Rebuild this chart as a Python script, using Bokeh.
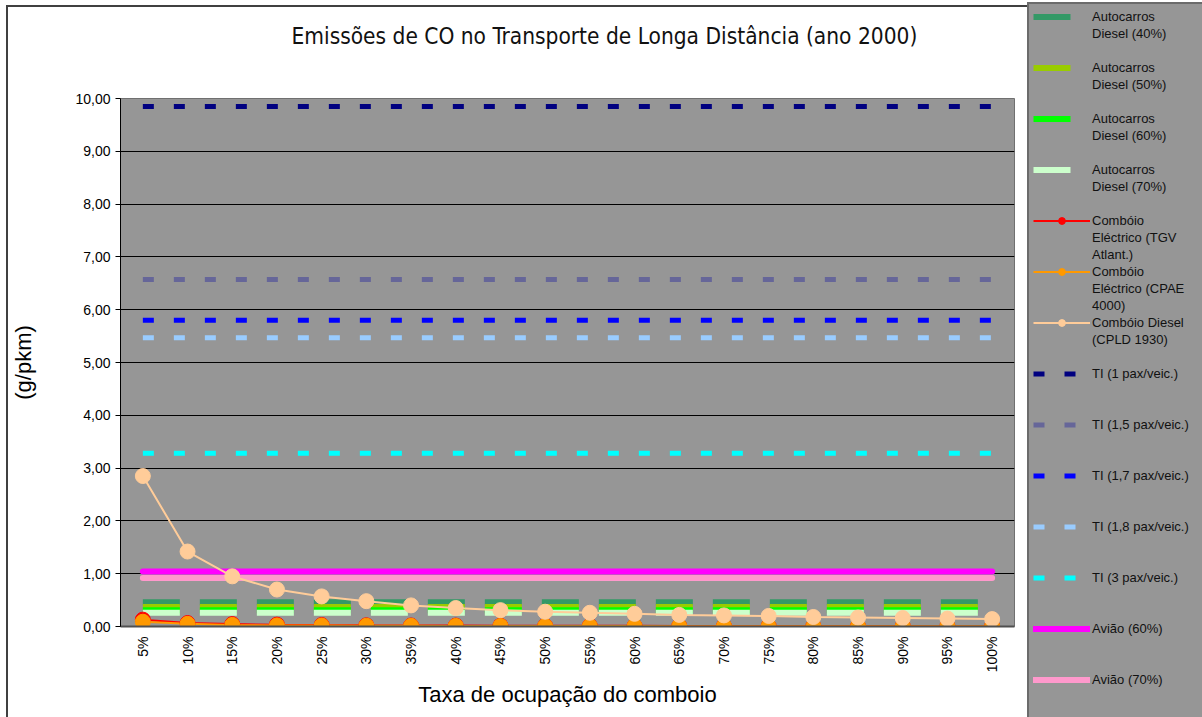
import math
from bokeh.plotting import figure
from bokeh.models import (Legend, LegendItem, FactorRange, Range1d, FixedTicker,
                          CustomJSTickFormatter, Title)
from bokeh.embed import file_html
from bokeh.resources import INLINE

categories = ["5%", "10%", "15%", "20%", "25%", "30%", "35%", "40%", "45%", "50%",
              "55%", "60%", "65%", "70%", "75%", "80%", "85%", "90%", "95%", "100%"]

autocarros_40 = [0.46, 0.46, 0.46, 0.46, 0.46, 0.46, 0.46, 0.46, 0.46, 0.46,
                 0.46, 0.46, 0.46, 0.46, 0.46, 0.46, 0.46, 0.46, 0.46, 0.46]
autocarros_50 = [0.37, 0.37, 0.37, 0.37, 0.37, 0.37, 0.37, 0.37, 0.37, 0.37,
                 0.37, 0.37, 0.37, 0.37, 0.37, 0.37, 0.37, 0.37, 0.37, 0.37]
autocarros_60 = [0.31, 0.31, 0.31, 0.31, 0.31, 0.31, 0.31, 0.31, 0.31, 0.31,
                 0.31, 0.31, 0.31, 0.31, 0.31, 0.31, 0.31, 0.31, 0.31, 0.31]
autocarros_70 = [0.26, 0.26, 0.26, 0.26, 0.26, 0.26, 0.26, 0.26, 0.26, 0.26,
                 0.26, 0.26, 0.26, 0.26, 0.26, 0.26, 0.26, 0.26, 0.26, 0.26]
comboio_tgv = [0.13, 0.065, 0.045, 0.035, 0.028, 0.023, 0.02, 0.018, 0.016, 0.014,
               0.013, 0.012, 0.011, 0.01, 0.009, 0.009, 0.008, 0.008, 0.007, 0.007]
comboio_cpae = [0.09, 0.05, 0.03, 0.02, 0.018, 0.015, 0.013, 0.011, 0.01, 0.009,
                0.008, 0.008, 0.007, 0.007, 0.006, 0.006, 0.005, 0.005, 0.005, 0.005]
comboio_diesel = [2.85, 1.42, 0.95, 0.70, 0.57, 0.48, 0.40, 0.35, 0.31, 0.28,
                  0.26, 0.24, 0.22, 0.21, 0.20, 0.18, 0.17, 0.16, 0.15, 0.14]
ti_1 = [9.85, 9.85, 9.85, 9.85, 9.85, 9.85, 9.85, 9.85, 9.85, 9.85,
        9.85, 9.85, 9.85, 9.85, 9.85, 9.85, 9.85, 9.85, 9.85, 9.85]
ti_15 = [6.57, 6.57, 6.57, 6.57, 6.57, 6.57, 6.57, 6.57, 6.57, 6.57,
         6.57, 6.57, 6.57, 6.57, 6.57, 6.57, 6.57, 6.57, 6.57, 6.57]
ti_17 = [5.80, 5.80, 5.80, 5.80, 5.80, 5.80, 5.80, 5.80, 5.80, 5.80,
         5.80, 5.80, 5.80, 5.80, 5.80, 5.80, 5.80, 5.80, 5.80, 5.80]
ti_18 = [5.47, 5.47, 5.47, 5.47, 5.47, 5.47, 5.47, 5.47, 5.47, 5.47,
         5.47, 5.47, 5.47, 5.47, 5.47, 5.47, 5.47, 5.47, 5.47, 5.47]
ti_3 = [3.28, 3.28, 3.28, 3.28, 3.28, 3.28, 3.28, 3.28, 3.28, 3.28,
        3.28, 3.28, 3.28, 3.28, 3.28, 3.28, 3.28, 3.28, 3.28, 3.28]
aviao_60 = [1.04, 1.04, 1.04, 1.04, 1.04, 1.04, 1.04, 1.04, 1.04, 1.04,
            1.04, 1.04, 1.04, 1.04, 1.04, 1.04, 1.04, 1.04, 1.04, 1.04]
aviao_70 = [0.92, 0.92, 0.92, 0.92, 0.92, 0.92, 0.92, 0.92, 0.92, 0.92,
            0.92, 0.92, 0.92, 0.92, 0.92, 0.92, 0.92, 0.92, 0.92, 0.92]
y_ticks = [0, 1, 2, 3, 4, 5, 6, 7, 8, 9, 10]

series_labels = [
    "Autocarros\nDiesel (40%)", "Autocarros\nDiesel (50%)",
    "Autocarros\nDiesel (60%)", "Autocarros\nDiesel (70%)",
    "Combóio\nEléctrico (TGV\nAtlant.)", "Combóio\nEléctrico (CPAE\n4000)",
    "Combóio Diesel\n(CPLD 1930)",
    "TI (1 pax/veic.)", "TI (1,5 pax/veic.)", "TI (1,7 pax/veic.)",
    "TI (1,8 pax/veic.)", "TI (3 pax/veic.)",
    "Avião (60%)", "Avião (70%)",
]

FONT = "Liberation Sans"
BUS_DASH = "37 20"
TI_DASH = "11 20"

# style of each series: (kind, colour, width, dash)
styles = [
    ("line", "#339966", 6, BUS_DASH), ("line", "#99CC00", 6, BUS_DASH),
    ("line", "#00FF00", 6, BUS_DASH), ("line", "#CCFFCC", 6, BUS_DASH),
    ("marker", "#FF0000", 2, "solid"), ("marker", "#FF9900", 2, "solid"),
    ("marker", "#FFCC99", 2, "solid"),
    ("line", "#000080", 5, TI_DASH), ("line", "#666699", 5, TI_DASH),
    ("line", "#0000FF", 5, TI_DASH), ("line", "#99CCFF", 5, TI_DASH),
    ("line", "#00FFFF", 5, TI_DASH),
    ("round", "#FF00FF", 6, "solid"), ("round", "#FF99CC", 6, "solid"),
]
series_values = [autocarros_40, autocarros_50, autocarros_60, autocarros_70,
                 comboio_tgv, comboio_cpae, comboio_diesel,
                 ti_1, ti_15, ti_17, ti_18, ti_3, aviao_60, aviao_70]


def draw_series(fig, i, marker_size=15):
    kind, col, w, dash = styles[i]
    cap = "round" if kind == "round" else "butt"
    rl = fig.line(categories, series_values[i], line_color=col, line_width=w,
                  line_dash=dash, line_cap=cap)
    if kind == "marker":
        rm = fig.scatter(categories, series_values[i], size=marker_size,
                         fill_color=col, line_color=col)
        return [rl, rm]
    return [rl]


# ---------------- main chart ----------------
p = figure(width=1022, height=717, title=None,
           x_range=FactorRange(*categories, range_padding=0, factor_padding=0),
           y_range=Range1d(0, 10),
           output_backend="svg", toolbar_location=None,
           min_border_left=120, min_border_right=8,
           min_border_top=98, min_border_bottom=91)

p.styles = {"box-shadow": "inset 6px 5px 0 0 white, inset 8px 7px 0 0 #404040",
            "background-color": "white"}
p.border_fill_alpha = 0

# spacer (nearest the frame) then the main title above it
p.add_layout(Title(text=" ", text_font_size="10px", standoff=37), "above")
p.add_layout(Title(text="Emissões de CO no Transporte de Longa Distância (ano 2000)",
                   text_font="DejaVu Sans Condensed", text_font_size="22.5px",
                   text_font_style="normal", text_color="#111111",
                   align="left", offset=171, standoff=0), "above")

p.background_fill_color = "#969696"
p.outline_line_color = "#707070"
p.outline_line_width = 1

p.xgrid.grid_line_color = None
p.ygrid.grid_line_color = "black"
p.ygrid.grid_line_width = 1

p.yaxis.ticker = FixedTicker(ticks=y_ticks)
p.yaxis.formatter = CustomJSTickFormatter(code="return tick.toFixed(2).replace('.', ',');")
p.yaxis.major_label_text_font = FONT
p.yaxis.major_label_text_font_size = "14px"
p.yaxis.major_label_text_color = "black"
p.yaxis.major_tick_out = 5
p.yaxis.major_tick_in = 0
p.yaxis.minor_tick_out = 0
p.yaxis.minor_tick_in = 0
p.yaxis.major_label_standoff = 5
p.yaxis.axis_line_color = "black"
p.yaxis.axis_label = "(g/pkm)"
p.yaxis.axis_label_text_font = FONT
p.yaxis.axis_label_text_font_size = "22px"
p.yaxis.axis_label_text_font_style = "normal"
p.yaxis.axis_label_text_color = "black"
p.yaxis.axis_label_standoff = 36

p.xaxis.major_label_orientation = math.pi / 2
p.xaxis.major_label_text_font = FONT
p.xaxis.major_label_text_font_size = "14px"
p.xaxis.major_label_text_color = "black"
p.xaxis.major_tick_out = 0
p.xaxis.major_tick_in = 0
p.xaxis.major_label_standoff = 10
p.xaxis.axis_line_color = "#505050"
p.xaxis.axis_line_width = 2
p.xaxis.axis_label = "Taxa de ocupação do comboio"
p.xaxis.axis_label_text_font = FONT
p.xaxis.axis_label_text_font_size = "22px"
p.xaxis.axis_label_text_font_style = "normal"
p.xaxis.axis_label_text_color = "black"
p.xaxis.axis_label_standoff = 7

# draw order: reference lines first, train series (with markers) on top
for i in [0, 1, 2, 3, 7, 8, 9, 10, 11, 12, 13]:
    draw_series(p, i)
for i in [4, 5, 6]:
    kind, col, w, dash = styles[i]
    p.line(categories, series_values[i], line_color=col, line_width=w)
for i in [4, 5, 6]:
    kind, col, w, dash = styles[i]
    p.scatter(categories, series_values[i], size=15, fill_color=col, line_color=col)

# ---------------- legend panel (separate root, placed to the right) ----------------
# its own copies of the series sit outside its (empty) value window, so only the legend shows
q = figure(width=180, height=717,
           x_range=FactorRange(*categories), y_range=Range1d(-3, -2),
           output_backend="svg", toolbar_location=None, min_border=0)
q.axis.visible = False
q.grid.grid_line_color = None
q.outline_line_color = None
q.background_fill_alpha = 0
q.border_fill_alpha = 0
q.styles = {"position": "absolute", "left": "1022px", "top": "0px",
            "box-shadow": "inset 0 5px 0 0 white, inset 0 7px 0 0 #404040",
            "background-color": "white"}

rows = []
for i, label in enumerate(series_labels):
    rends = draw_series(q, i, marker_size=9)
    lines = label.split("\n")
    while len(lines) < 3:
        lines.append(" ")
    rows.append(LegendItem(label=lines[0], renderers=rends))
    for extra in lines[1:]:
        rows.append(LegendItem(label=extra, renderers=[]))

legend = Legend(items=rows, location=(5, -11), orientation="vertical",
                background_fill_color="#969696", background_fill_alpha=1,
                border_line_color="#404040", border_line_width=2,
                label_text_font=FONT, label_text_font_size="13px",
                label_text_color="#111111",
                glyph_width=57, glyph_height=17, label_height=17, label_width=106,
                label_standoff=2, spacing=0, padding=4, margin=0)
q.add_layout(legend, "center")

open("out.html", "w").write(file_html([p, q], INLINE))
